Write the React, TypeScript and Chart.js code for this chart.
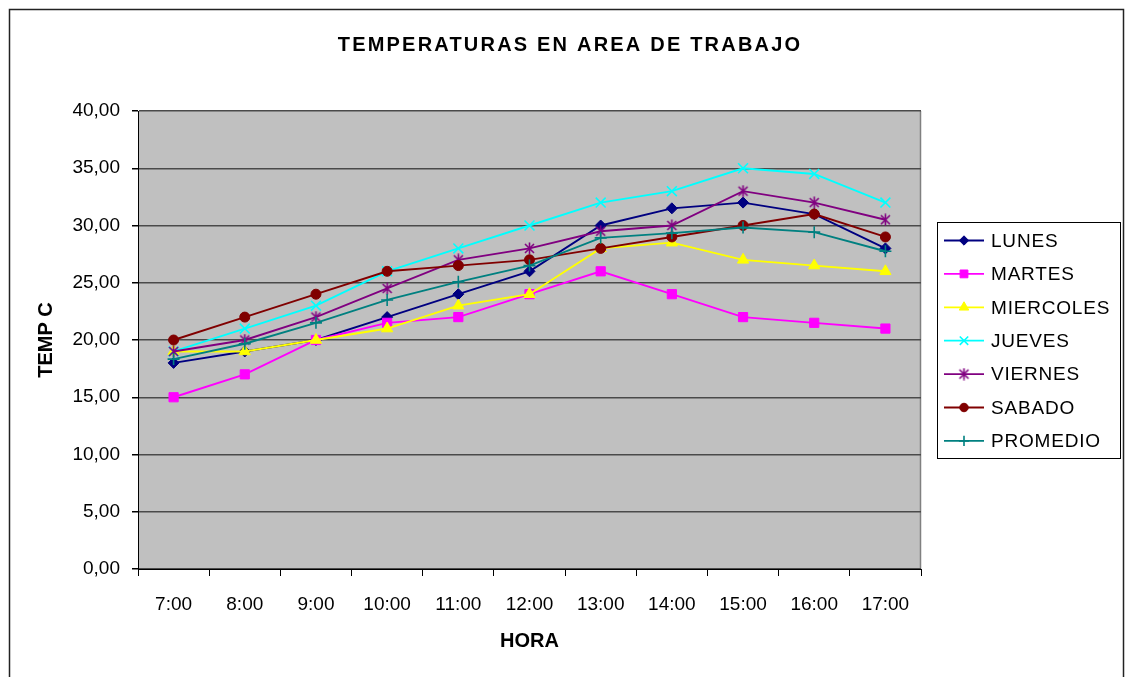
import React, { useEffect, useRef } from 'react';
import { Chart, registerables } from 'chart.js';
import { drawPoint } from 'chart.js/helpers';

Chart.register(...registerables);

const FONT = '"Liberation Sans", Arial, sans-serif';

const chartTitle = 'TEMPERATURAS EN AREA DE TRABAJO';
const xTitle = 'HORA';
const yTitle = 'TEMP C';

const hours = ['7:00', '8:00', '9:00', '10:00', '11:00', '12:00', '13:00', '14:00', '15:00', '16:00', '17:00'];

const lunes = [18, 19, 20, 22, 24, 26, 30, 31.5, 32, 31, 28];
const martes = [15, 17, 20, 21.5, 22, 24, 26, 24, 22, 21.5, 21];
const miercoles = [19, 19, 20, 21, 23, 24, 28, 28.5, 27, 26.5, 26];
const jueves = [19, 21, 23, 26, 28, 30, 32, 33, 35, 34.5, 32];
const viernes = [19, 20, 22, 24.5, 27, 28, 29.5, 30, 33, 32, 30.5];
const sabado = [20, 22, 24, 26, 26.5, 27, 28, 29, 30, 31, 29];
const promedio = [18.33, 19.67, 21.5, 23.5, 25.08, 26.5, 28.92, 29.33, 29.83, 29.42, 27.75];

const seriesNames = ['LUNES', 'MARTES', 'MIERCOLES', 'JUEVES', 'VIERNES', 'SABADO', 'PROMEDIO'];
const seriesValues = [lunes, martes, miercoles, jueves, viernes, sabado, promedio];
const seriesColors = ['#000080', '#FF00FF', '#FFFF00', '#00FFFF', '#800080', '#800000', '#008080'];

const yMin = 0;
const yMax = 40;
const yStep = 5;

function makeAsterisk(color: string): HTMLCanvasElement {
  const c = document.createElement('canvas');
  c.width = 13;
  c.height = 13;
  const g = c.getContext('2d')!;
  g.strokeStyle = color;
  g.lineWidth = 1.6;
  g.beginPath();
  g.moveTo(2, 2); g.lineTo(11, 11);
  g.moveTo(11, 2); g.lineTo(2, 11);
  g.moveTo(6.5, 0.5); g.lineTo(6.5, 12.5);
  g.stroke();
  return c;
}

const markerStyles: any[] = [
  { pointStyle: 'rectRot', radius: 5.5, borderWidth: 1 },
  { pointStyle: 'rect', radius: 6.5, borderWidth: 1 },
  { pointStyle: 'triangle', radius: 6.5, borderWidth: 1 },
  { pointStyle: 'crossRot', radius: 7, borderWidth: 1.6 },
  { pointStyle: 'asterisk', radius: 6, borderWidth: 1.6 },
  { pointStyle: 'circle', radius: 5, borderWidth: 1 },
  { pointStyle: 'cross', radius: 6, borderWidth: 1.6 },
];

export default function App() {
  const ref = useRef<HTMLCanvasElement | null>(null);

  useEffect(() => {
    if (!ref.current) return;
    const star = makeAsterisk(seriesColors[4]);
    const styles = markerStyles.map((m) => ({ ...m, pointStyle: m.pointStyle === 'asterisk' ? star : m.pointStyle }));

    const decor = {
      id: 'decor',
      beforeDraw(chart: any) {
        const { ctx, chartArea } = chart;
        ctx.save();
        ctx.fillStyle = '#ffffff';
        ctx.fillRect(0, 0, chart.width, chart.height);
        ctx.fillStyle = '#C0C0C0';
        ctx.fillRect(chartArea.left, chartArea.top, chartArea.right - chartArea.left, chartArea.bottom - chartArea.top);
        ctx.strokeStyle = '#808080';
        ctx.lineWidth = 1.5;
        ctx.beginPath();
        ctx.moveTo(chartArea.right - 0.5, chartArea.top);
        ctx.lineTo(chartArea.right - 0.5, chartArea.bottom);
        ctx.stroke();
        ctx.restore();
      },
      afterDraw(chart: any) {
        const { ctx } = chart;
        ctx.save();
        // outer frame
        ctx.strokeStyle = '#222222';
        ctx.lineWidth = 1.5;
        ctx.strokeRect(9.5, 9.5, 1114, 720);
        // title
        ctx.fillStyle = '#000';
        ctx.font = `bold 20px ${FONT}`;
        (ctx as any).letterSpacing = '2.2px';
        ctx.textAlign = 'center';
        ctx.textBaseline = 'middle';
        ctx.fillText(chartTitle, 570, 45);
        (ctx as any).letterSpacing = '0px';
        // legend
        const lx = 937, ly = 222, lw = 183, lh = 236;
        ctx.fillStyle = '#ffffff';
        ctx.fillRect(lx, ly, lw, lh);
        ctx.strokeStyle = '#000';
        ctx.lineWidth = 1;
        ctx.strokeRect(lx + 0.5, ly + 0.5, lw, lh);
        const step = 33.4;
        for (let i = 0; i < seriesNames.length; i++) {
          const y = 240.5 + i * step;
          ctx.strokeStyle = seriesColors[i];
          ctx.fillStyle = seriesColors[i];
          ctx.lineWidth = 1.8;
          ctx.beginPath();
          ctx.moveTo(944, y);
          ctx.lineTo(984, y);
          ctx.stroke();
          const s = styles[i];
          ctx.lineWidth = s.borderWidth;
          drawPoint(ctx, { pointStyle: s.pointStyle, rotation: 0, radius: s.radius * 0.85, borderWidth: s.borderWidth }, 964, y);
          ctx.fillStyle = '#000';
          ctx.font = `19px ${FONT}`;
          (ctx as any).letterSpacing = '0.8px';
          ctx.textAlign = 'left';
          ctx.textBaseline = 'middle';
          ctx.fillText(seriesNames[i], 991, y + 1);
          (ctx as any).letterSpacing = '0px';
        }
        ctx.restore();
      },
    };

    const chart = new Chart(ref.current, {
      type: 'line',
      data: {
        labels: hours,
        datasets: seriesNames.map((name, i) => ({
          label: name,
          data: seriesValues[i],
          borderColor: seriesColors[i],
          backgroundColor: seriesColors[i],
          pointBackgroundColor: seriesColors[i],
          pointBorderColor: seriesColors[i],
          borderWidth: 1.9,
          pointStyle: styles[i].pointStyle,
          pointRadius: styles[i].radius,
          pointBorderWidth: styles[i].borderWidth,
          tension: 0,
          fill: false,
          order: seriesNames.length - i,
        })),
      },
      options: {
        responsive: false,
        animation: false,
        events: [],
        layout: { padding: { left: 0, right: 207, top: 111, bottom: 0 } },
        plugins: {
          legend: { display: false },
          title: { display: false },
          tooltip: { enabled: false },
        },
        scales: {
          x: {
            type: 'category',
            offset: true,
            grid: { display: true, drawOnChartArea: false, drawTicks: true, tickLength: 7, offset: true, color: '#000', tickColor: '#000' },
            border: { display: true, color: '#000', width: 1 },
            ticks: { color: '#000', font: { family: FONT, size: 19 }, padding: 17, maxRotation: 0, autoSkip: false },
            title: { display: true, text: xTitle, color: '#000', font: { family: FONT, size: 20, weight: 'bold' }, padding: { top: 0, bottom: 24 } },
            afterFit: (s: any) => { s.height = 108; },
          },
          y: {
            min: yMin,
            max: yMax,
            grid: { color: '#4a4a4a', lineWidth: 1.5, tickColor: '#000', tickLength: 6, drawTicks: true },
            border: { display: true, color: '#000', width: 1 },
            ticks: {
              stepSize: yStep,
              color: '#000',
              font: { family: FONT, size: 19 },
              padding: 12,
              callback: (v: any) => Number(v).toFixed(2).replace('.', ','),
            },
            title: { display: true, text: yTitle, color: '#000', font: { family: FONT, size: 20, weight: 'bold' }, padding: { top: 34, bottom: 0 } },
            afterFit: (s: any) => { s.width = 138; },
          },
        },
      } as any,
      plugins: [decor],
    });
    return () => chart.destroy();
  }, []);

  return (
    <div style={{ position: 'absolute', left: 0, top: 0, width: 1128, height: 677 }}>
      <canvas ref={ref} width={1128} height={677} style={{ display: 'block', width: 1128, height: 677 }} />
    </div>
  );
}
